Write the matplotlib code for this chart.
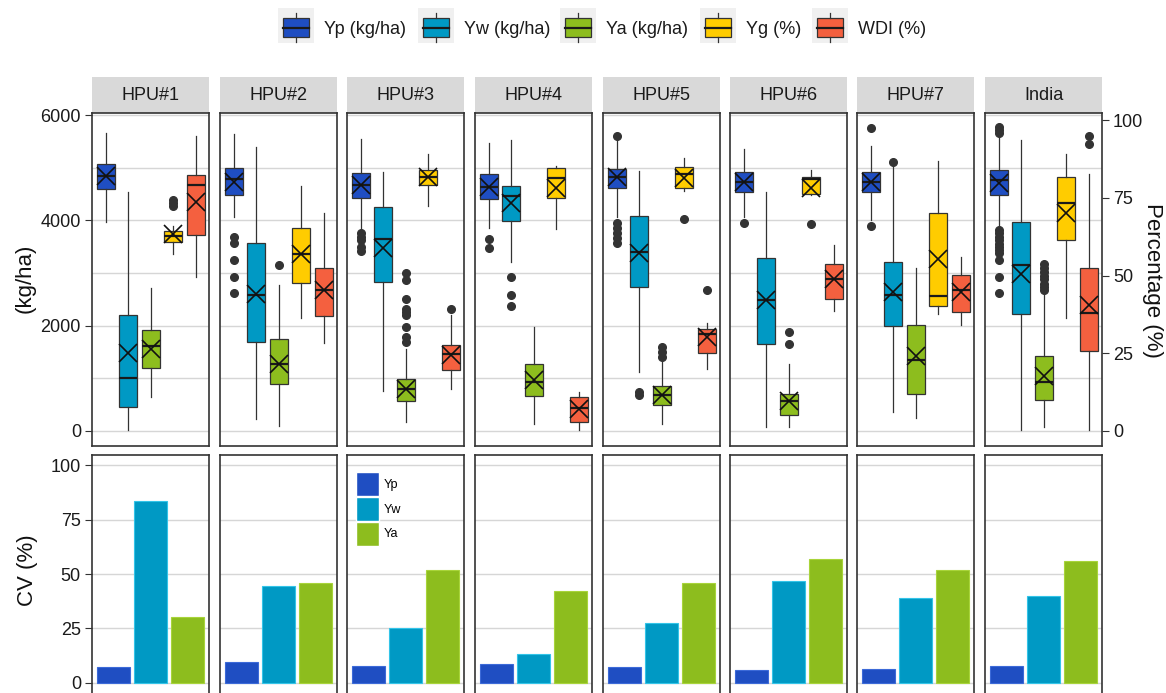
import matplotlib
matplotlib.use('Agg')
import matplotlib.pyplot as plt
from matplotlib.patches import Rectangle, Patch

plt.rcParams['font.family'] = ['Liberation Sans', 'DejaVu Sans']

panels = ['HPU#1', 'HPU#2', 'HPU#3', 'HPU#4', 'HPU#5', 'HPU#6', 'HPU#7', 'India']

# box stats per panel: [whislo, q1, median, q3, whishi, mean]
yp_box = [[3973, 4594, 4847, 5062, 5664, 4850],
          [4068, 4480, 4784, 4999, 5633, 4733],
          [3814, 4429, 4670, 4891, 5550, 4670],
          [3846, 4397, 4638, 4879, 5462, 4640],
          [4068, 4606, 4828, 4967, 5525, 4815],
          [4068, 4543, 4720, 4910, 5348, 4720],
          [4004, 4543, 4720, 4910, 5411, 4720],
          [3878, 4480, 4765, 4955, 5588, 4714]]
yp_out = [[], [3687, 3561, 3244, 2915, 2629], [3751, 3688, 3624, 3497, 3421],
          [3637, 3478], [5601, 3941, 3846, 3751, 3656, 3561], [3941], [5747, 3890],
          [5778, 5715, 5652, 3814, 3750, 3690, 3630, 3560, 3500, 3440, 3371, 3244, 2915, 2629]]

yw_box = [[13, 456, 1014, 2199, 4543, 1489],
          [234, 1685, 2591, 3573, 5386, 2610],
          [754, 2832, 3643, 4258, 4910, 3466],
          [3212, 3992, 4461, 4651, 5525, 4321],
          [1121, 2737, 3402, 4080, 4942, 3383],
          [76, 1660, 2484, 3276, 4543, 2484],
          [361, 1996, 2579, 3200, 5018, 2642],
          [13, 2230, 3149, 3960, 5525, 2990]]
yw_out = [[], [], [], [2915, 2579, 2370], [740, 690], [], [5113], []]

ya_box = [[646, 1197, 1609, 1913, 2718, 1560],
          [95, 887, 1280, 1742, 2769, 1280],
          [171, 570, 805, 995, 1565, 805],
          [139, 659, 931, 1280, 1977, 963],
          [139, 488, 690, 849, 1312, 690],
          [76, 310, 564, 710, 1267, 564],
          [247, 710, 1343, 2021, 3086, 1426],
          [76, 596, 931, 1426, 2610, 1039]]
ya_out = [[], [3149], [2991, 2864, 2515, 2325, 2262, 2198, 1977, 1787, 1692],
          [], [1597, 1502, 1407], [1882, 1660], [],
          [3180, 3100, 3020, 2950, 2880, 2800, 2740, 2674]]

# percentages
yg_box = [[57.1, 60.8, 62.7, 64.4, 66.0, 63.5],
          [36.5, 47.7, 57.1, 65.3, 79.0, 57.1],
          [72.4, 79.1, 81.8, 84.1, 89.1, 81.8],
          [65.1, 75.0, 81.5, 84.7, 85.2, 78.3],
          [77.3, 78.3, 82.6, 85.0, 87.7, 81.5],
          [75.9, 76.4, 81.0, 81.8, 83.9, 78.2],
          [37.6, 40.1, 43.5, 70.2, 86.8, 55.3],
          [36.5, 61.4, 73.4, 81.8, 89.1, 70.0]]
yg_out = [[72.5, 73.5, 74.5], [], [], [], [68.1], [66.7], [], []]

wdi_box = [[49.6, 63.0, 79.3, 82.3, 94.8, 73.7],
           [28.3, 37.1, 45.3, 52.6, 70.3, 45.5],
           [13.6, 19.7, 24.9, 27.6, 37.2, 24.4],
           [0.2, 2.9, 7.4, 10.9, 12.6, 7.2],
           [20.1, 25.1, 31.1, 32.9, 34.8, 30.3],
           [38.6, 42.5, 49.0, 53.6, 59.8, 49.0],
           [34.2, 38.3, 45.3, 50.3, 56.0, 44.7],
           [0.2, 25.6, 38.1, 52.3, 82.8, 40.5]]
wdi_out = [[], [], [39.2], [], [45.5], [], [], [94.8, 92.5]]

# coefficient of variation (%)
cv_yp = [7.2, 9.5, 7.9, 8.7, 7.2, 5.8, 6.6, 7.9]
cv_yw = [83.5, 44.6, 25.2, 13.4, 27.3, 46.6, 38.9, 39.7]
cv_ya = [30.5, 45.8, 51.9, 42.3, 45.8, 56.8, 51.9, 56.0]

legend_labels = ['Yp (kg/ha)', 'Yw (kg/ha)', 'Ya (kg/ha)', 'Yg (%)', 'WDI (%)']
colors = ['#1F4EC2', '#0099C4', '#8DBD1E', '#FFCC00', '#F4603F']
bar_edges = ['#3C6AD8', '#33C4E8', '#A8D43A']
PCT = 59.0  # kg/ha per percent on the secondary axis

W, H = 1166, 693
fig = plt.figure(figsize=(W / 100, H / 100), dpi=100)


def fbox(x0, y0, x1, y1):
    return [x0 / W, 1 - y1 / H, (x1 - x0) / W, (y1 - y0) / H]


lefts = [92, 220, 347, 475, 603, 730, 857, 985]
pw = 117


def stat(row, out, k=1.0):
    return dict(whislo=row[0] * k, q1=row[1] * k, med=row[2] * k, q3=row[3] * k,
                whishi=row[4] * k, mean=row[5] * k, fliers=[v * k for v in out])


for i, name in enumerate(panels):
    ax = fig.add_axes(fbox(lefts[i], 113, lefts[i] + pw, 446))
    stats = [stat(yp_box[i], yp_out[i]), stat(yw_box[i], yw_out[i]),
             stat(ya_box[i], ya_out[i]), stat(yg_box[i], yg_out[i], PCT),
             stat(wdi_box[i], wdi_out[i], PCT)]
    bp = ax.bxp(stats, positions=[1, 2, 3, 4, 5], widths=0.8, patch_artist=True,
                showmeans=True, showcaps=False,
                boxprops=dict(edgecolor='#333333', linewidth=0.9),
                whiskerprops=dict(color='#333333', linewidth=0.9),
                medianprops=dict(color='#1a1a1a', linewidth=1.6),
                flierprops=dict(marker='o', markerfacecolor='#333333',
                                markeredgecolor='#333333', markersize=5.5),
                meanprops=dict(marker='x', markeredgecolor='#111111',
                               markersize=13, markeredgewidth=1.2))
    for patch, c in zip(bp['boxes'], colors):
        patch.set_facecolor(c)
    ax.set_xlim(0.4, 5.6)
    ax.set_ylim(-285, 6038)
    ax.set_yticks([0, 2000, 4000, 6000])
    ax.set_yticks([1000, 3000, 5000], minor=True)
    ax.grid(True, axis='y', which='both', color='#d6d6d6', linewidth=1.0)
    ax.set_axisbelow(True)
    ax.set_xticks([])
    ax.tick_params(axis='y', which='minor', length=0)
    for s in ax.spines.values():
        s.set_color('#333333')
        s.set_linewidth(1.2)
    if i == 0:
        ax.tick_params(axis='y', which='major', labelsize=13, length=5,
                       color='#333333', labelcolor='#1a1a1a', pad=3)
        ax.set_yticklabels(['0', '2000', '4000', '6000'])
    else:
        ax.tick_params(axis='y', which='major', length=0, labelleft=False)
    if i == len(panels) - 1:
        sec = ax.secondary_yaxis('right', functions=(lambda k: k / PCT, lambda p: p * PCT))
        sec.set_yticks([0, 25, 50, 75, 100])
        sec.tick_params(labelsize=13, length=5, color='#333333', labelcolor='#1a1a1a', pad=3)
        sec.spines['right'].set_visible(False)
    # strip
    ax.add_patch(Rectangle((0, 1.0), 1, 36 / 333, transform=ax.transAxes,
                           facecolor='#d9d9d9', edgecolor='none', clip_on=False))
    ax.text(0.5, 1.0 + 18 / 333, name, transform=ax.transAxes, ha='center', va='center',
            fontsize=13, color='#1a1a1a')

    # bottom CV panel
    bx = fig.add_axes(fbox(lefts[i], 455, lefts[i] + pw, 696.5))
    bx.bar(1, cv_yp[i], width=0.9, color=colors[0], edgecolor=bar_edges[0], linewidth=0.8)
    bx.bar(2, cv_yw[i], width=0.9, color=colors[1], edgecolor=bar_edges[1], linewidth=0.8)
    bx.bar(3, cv_ya[i], width=0.9, color=colors[2], edgecolor=bar_edges[2], linewidth=0.8)
    bx.set_xlim(0.4, 3.6)
    bx.set_ylim(-6.2, 104.6)
    bx.set_yticks([0, 25, 50, 75, 100])
    bx.grid(True, axis='y', color='#d6d6d6', linewidth=1.0)
    bx.set_axisbelow(True)
    bx.set_xticks([])
    for s in bx.spines.values():
        s.set_color('#333333')
        s.set_linewidth(1.2)
    if i == 0:
        bx.tick_params(axis='y', labelsize=13, length=5, color='#333333',
                       labelcolor='#1a1a1a', pad=3)
    else:
        bx.tick_params(axis='y', length=0, labelleft=False)
    if i == 2:
        bx.legend([Patch(facecolor=colors[0], edgecolor='white'),
                   Patch(facecolor=colors[1], edgecolor='white'),
                   Patch(facecolor=colors[2], edgecolor='white')],
                  ['Yp', 'Yw', 'Ya'], loc='upper left', bbox_to_anchor=(0.08, 0.93),
                  frameon=False, fontsize=9, handlelength=1.8, handleheight=2.6,
                  labelspacing=0.05, handletextpad=0.4, borderpad=0, borderaxespad=0)

# axis titles
fig.text(25 / W, 1 - 278 / H, '(kg/ha)', rotation=90, ha='center', va='center',
         fontsize=16, color='#111111')
fig.text(1153 / W, 1 - 280 / H, 'Percentage (%)', rotation=270, ha='center', va='center',
         fontsize=16, color='#111111')
fig.text(27 / W, 1 - 570 / H, 'CV (%)', rotation=90, ha='center', va='center',
         fontsize=16, color='#111111')

# top legend with boxplot glyphs
lg = fig.add_axes([0, 1 - 60 / H, 1, 60 / H])
lg.set_xlim(0, W)
lg.set_ylim(60, 0)
lg.axis('off')
key_x = [278, 418, 560, 700, 812]
for kx, c, lab in zip(key_x, colors, legend_labels):
    lg.add_patch(Rectangle((kx, 8), 36, 35, facecolor='#f0f0f0', edgecolor='none'))
    cx = kx + 18
    lg.plot([cx, cx], [13, 18], color='#333333', lw=0.9)
    lg.plot([cx, cx], [37, 42], color='#333333', lw=0.9)
    lg.add_patch(Rectangle((kx + 5, 18), 26, 19, facecolor=c, edgecolor='#333333', lw=0.9))
    lg.plot([kx + 5, kx + 31], [27.5, 27.5], color='#1a1a1a', lw=1.6)
    lg.text(kx + 46, 29, lab, ha='left', va='center', fontsize=13, color='#1a1a1a')

fig.savefig('out.png', dpi=100)
